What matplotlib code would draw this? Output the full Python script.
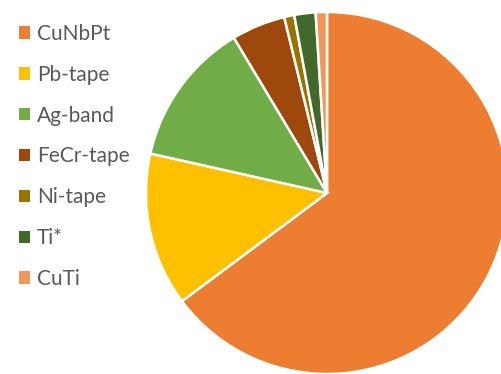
import matplotlib.pyplot as plt

labels = ["CuNbPt", "Pb-tape", "Ag-band", "FeCr-tape", "Ni-tape", "Ti*", "CuTi"]
shares = [64.8, 13.7, 12.9, 4.8, 0.9, 1.9, 1.0]
colors = ["#ED7D31", "#FFC000", "#70AD47", "#9E480E", "#997300", "#43682B", "#F1975A"]

plt.rcParams["font.family"] = ["Lato", "DejaVu Sans"]

W, H = 502, 374
fig = plt.figure(figsize=(W / 100, H / 100), dpi=100)
ax = fig.add_axes([0, 0, 1, 1])

wedges, _ = ax.pie(
    shares,
    colors=colors,
    startangle=90,
    counterclock=False,
    center=(327, H - 193),
    radius=181,
    wedgeprops=dict(edgecolor="white", linewidth=1.8),
    frame=True,
)
ax.set_xlim(0, W)
ax.set_ylim(0, H)
ax.set_aspect("equal")
ax.axis("off")

leg = ax.legend(
    wedges, labels,
    loc="upper left",
    bbox_to_anchor=(19 / W, 1 - 24 / H),
    borderaxespad=0,
    borderpad=0,
    frameon=False,
    fontsize=15,
    handlelength=0.53,
    handleheight=0.53,
    handletextpad=0.34,
    labelspacing=1.0,
    labelcolor="#595959",
)
for h in leg.legend_handles:
    h.set_edgecolor("none")

fig.savefig("out.png", dpi=100)
